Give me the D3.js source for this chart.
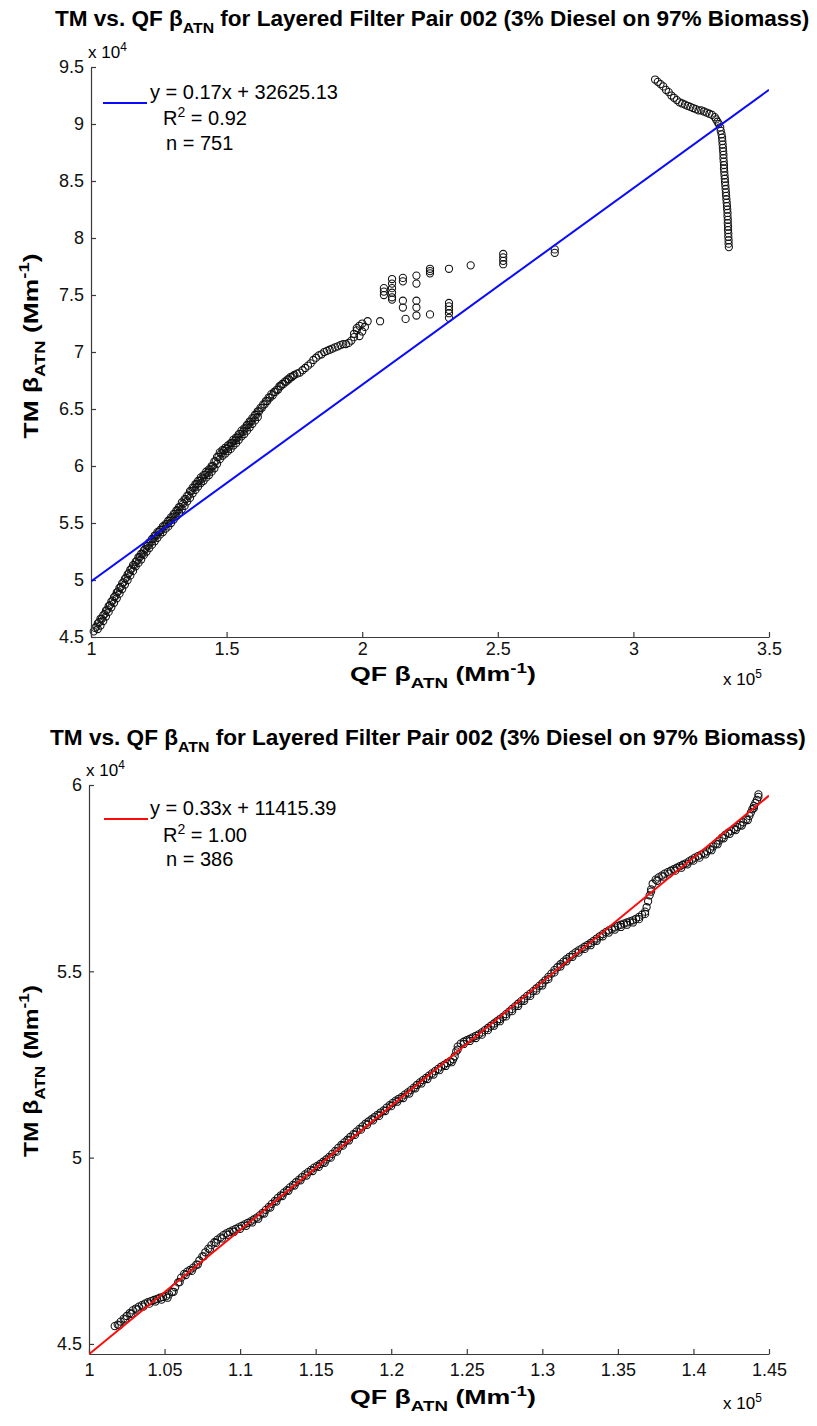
<!DOCTYPE html>
<html>
<head>
<meta charset="utf-8">
<script src="https://cdn.jsdelivr.net/npm/d3@7/dist/d3.min.js"></script>
<style>
  html, body { margin: 0; padding: 0; background: #fff; }
  svg { display: block; }
</style>
</head>
<body>
<script>
// ---------- Data (QF in units of 1e5 Mm^-1, TM in units of 1e4 Mm^-1) ----------

// Pair 002, full record: lower rising branch
const qfTopCurve = [1.01,1.02,1.03,1.04,1.05,1.06,1.07,1.08,1.09,1.10,1.11,1.12,1.13,1.14,1.15,1.16,1.17,1.18,1.19,1.20,
  1.21,1.22,1.23,1.24,1.25,1.26,1.27,1.28,1.29,1.30,1.31,1.32,1.33,1.34,1.35,1.36,1.37,1.38,1.39,1.40,
  1.41,1.42,1.43,1.44,1.45,1.46,1.47,1.48,1.49,1.50,1.51,1.52,1.53,1.54,1.55,1.56,1.57,1.58,1.59,1.60,
  1.61,1.62,1.63,1.64,1.65,1.66,1.67,1.68,1.69,1.70,1.71,1.72,1.73,1.74,1.75,1.76,1.77,1.78,1.79,1.80,
  1.015,1.025,1.035,1.045,1.055,1.065,1.075,1.085,1.095,1.105,1.115,1.125,1.135,1.145,1.155,1.165,1.175,1.185,1.195,1.205,
  1.215,1.225,1.235,1.245,1.255,1.265,1.275,1.285,1.295,1.305,1.315,1.325,1.335,1.345,1.355,1.365,1.375,1.385,1.395,1.405,
  1.415,1.425,1.435,1.445,1.455,1.465,1.475,1.485,1.495,1.505,1.515,1.525,1.535,1.545,1.555,1.565,1.575,1.585,1.595,1.605,
  1.615,1.625,1.635,1.645,1.655,1.665,1.675,1.685,1.695,1.705,1.715,1.725,1.735,1.745,
  1.81,1.82,1.83,1.84,1.85,1.86,1.87,1.88,1.89,1.90,1.91,1.92,1.93,1.94,1.95,1.96,1.97,1.97,1.98,1.98,1.99,1.99,2.00,2.00,2.01,2.02];
const tmTopCurve = [4.55,4.59,4.63,4.66,4.70,4.74,4.78,4.82,4.86,4.90,4.94,4.98,5.02,5.06,5.10,5.13,5.17,5.20,5.23,5.27,
  5.30,5.33,5.36,5.39,5.42,5.44,5.47,5.49,5.52,5.55,5.58,5.61,5.64,5.67,5.71,5.74,5.78,5.81,5.84,5.87,
  5.89,5.92,5.94,5.97,6.00,6.04,6.08,6.11,6.13,6.15,6.17,6.20,6.22,6.25,6.28,6.30,6.33,6.36,6.39,6.42,
  6.45,6.48,6.51,6.54,6.57,6.60,6.62,6.65,6.67,6.70,6.72,6.74,6.76,6.78,6.80,6.81,6.82,6.84,6.86,6.88,
  4.58,4.62,4.66,4.69,4.73,4.77,4.81,4.85,4.89,4.93,4.97,5.01,5.05,5.09,5.13,5.16,5.20,5.23,5.26,5.30,
  5.33,5.36,5.39,5.42,5.44,5.47,5.49,5.52,5.55,5.58,5.61,5.64,5.68,5.71,5.74,5.78,5.81,5.84,5.87,5.90,
  5.92,5.95,5.97,6.00,6.04,6.08,6.12,6.14,6.16,6.18,6.20,6.23,6.25,6.28,6.31,6.33,6.36,6.39,6.42,6.45,
  6.48,6.51,6.54,6.57,6.60,6.63,6.65,6.67,6.70,6.72,6.74,6.76,6.78,6.79,
  6.90,6.93,6.95,6.97,6.98,7.00,7.01,7.02,7.03,7.04,7.05,7.06,7.07,7.07,7.08,7.10,7.13,7.16,7.19,7.21,7.23,7.14,7.25,7.18,7.22,7.27];

// Pair 002, full record: right edge of the lower branch
const qfTopEdge = [1.025,1.035,1.045,1.055,1.065,1.075,1.085,1.095,1.105,1.115,1.125,1.135,1.145,1.155,1.165,1.175,1.185,1.195,1.205,1.215,
  1.225,1.235,1.245,1.255,1.265,1.275,1.285,1.295,1.305,1.315,1.325,1.335,1.345,1.355,1.365,1.375,1.385,1.395,1.405,1.415,
  1.425,1.435,1.445,1.455,1.465,1.475,1.485,1.495,1.505,1.515,1.525,1.535,1.545,1.555,1.565,1.575,1.585,1.595,1.605,1.615];
const tmTopEdge = [4.57,4.60,4.64,4.68,4.72,4.76,4.80,4.84,4.88,4.92,4.96,5.00,5.04,5.08,5.12,5.15,5.18,5.22,5.25,5.28,
  5.31,5.34,5.37,5.40,5.42,5.45,5.47,5.50,5.53,5.56,5.59,5.62,5.65,5.69,5.72,5.76,5.79,5.82,5.85,5.87,
  5.90,5.92,5.95,5.98,6.02,6.06,6.09,6.11,6.13,6.15,6.18,6.20,6.23,6.26,6.28,6.31,6.34,6.37,6.40,6.43];

// Pair 002, full record: scattered middle group
const qfTopCluster = [2.066,2.08,2.08,2.08,2.11,2.11,2.11,2.11,2.11,2.11,2.15,2.15,2.15,2.15,2.16,
  2.20,2.20,2.20,2.20,2.20,2.25,2.25,2.25,2.25,2.32,2.32,2.32,2.32,2.32,2.32,2.40,2.52,2.52,2.52,2.52,2.71,2.71];
const tmTopCluster = [7.27,7.56,7.53,7.50,7.64,7.60,7.56,7.52,7.48,7.46,7.65,7.62,7.45,7.39,7.29,
  7.67,7.60,7.45,7.39,7.32,7.73,7.71,7.69,7.33,7.73,7.43,7.40,7.37,7.34,7.30,7.76,7.86,7.83,7.80,7.77,7.90,7.87];

// Pair 002, full record: upper bending branch
const qfTopBranch = [3.08,3.09,3.10,3.11,3.12,3.13,3.14,3.15,3.16,3.17,3.18,3.19,3.20,3.21,3.22,3.23,3.24,3.25,3.26,3.27,
  3.28,3.29,3.30,3.305,3.31,3.315,3.32,3.322,3.325,3.327,3.328,3.329,3.330,3.331,3.332,3.332,3.333,3.334,3.334,3.335,
  3.336,3.337,3.338,3.339,3.340,3.341,3.342,3.343,3.344,3.345,3.346,3.347,3.347,3.348,3.348,3.349,3.349,3.350,3.350,3.351,3.351,3.352];
const tmTopBranch = [9.39,9.37,9.35,9.33,9.30,9.28,9.25,9.23,9.21,9.19,9.18,9.17,9.16,9.15,9.14,9.13,9.12,9.12,9.11,9.10,
  9.09,9.08,9.06,9.04,9.02,9.00,8.97,8.94,8.91,8.88,8.85,8.82,8.79,8.76,8.73,8.70,8.67,8.64,8.61,8.58,
  8.55,8.52,8.49,8.46,8.43,8.40,8.37,8.34,8.31,8.28,8.25,8.22,8.19,8.16,8.13,8.10,8.07,8.04,8.01,7.98,7.95,7.92];

// Pair 002, trimmed record
const qfBottom = [1.017,1.019,1.021,1.023,1.025,1.027,1.029,1.031,1.033,1.035,1.037,1.039,1.041,1.043,1.045,1.047,1.049,1.051,1.053,1.055,
  1.057,1.059,1.061,1.063,1.065,1.067,1.069,1.071,1.073,1.075,1.077,1.079,1.081,1.083,1.085,1.087,1.089,1.091,1.093,1.095,
  1.097,1.099,1.101,1.103,1.105,1.107,1.109,1.111,1.113,1.115,1.117,1.119,1.121,1.123,1.125,1.127,1.129,1.131,1.133,1.135,
  1.137,1.139,1.141,1.143,1.145,1.147,1.149,1.151,1.153,1.155,1.157,1.159,1.161,1.163,1.165,1.167,1.169,1.171,1.173,1.175,
  1.177,1.179,1.181,1.183,1.185,1.187,1.189,1.191,1.193,1.195,1.197,1.199,1.201,1.203,1.205,1.207,1.209,1.211,1.213,1.215,
  1.217,1.219,1.221,1.223,1.225,1.227,1.229,1.231,1.233,1.235,1.237,1.239,1.241,1.242,1.243,1.244,1.246,1.248,1.250,1.252,
  1.254,1.256,1.258,1.260,1.262,1.264,1.266,1.268,1.270,1.272,1.274,1.276,1.278,1.280,1.282,1.284,1.286,1.288,1.290,1.292,
  1.294,1.296,1.298,1.300,1.302,1.304,1.306,1.308,1.310,1.312,1.314,1.316,1.318,1.320,1.322,1.324,1.326,1.328,1.330,1.332,
  1.334,1.336,1.338,1.340,1.342,1.344,1.346,1.348,1.350,1.352,1.354,1.356,1.358,1.360,1.362,1.364,1.366,1.368,1.369,1.370,
  1.371,1.372,1.373,1.375,1.377,1.379,1.381,1.383,1.385,1.387,1.389,1.391,1.393,1.395,1.397,1.399,1.401,1.403,1.405,1.407,
  1.409,1.411,1.413,1.415,1.417,1.419,1.421,1.423,1.425,1.427,1.429,1.431,1.433,1.435,1.437,1.438,1.439,1.440,1.441,1.442,1.443,1.443];
const tmBottom = [4.548,4.552,4.560,4.568,4.575,4.583,4.590,4.595,4.600,4.604,4.608,4.612,4.615,4.618,4.621,4.624,4.626,4.628,4.633,4.640,
  4.652,4.665,4.678,4.688,4.694,4.699,4.705,4.713,4.724,4.735,4.746,4.756,4.765,4.773,4.780,4.786,4.792,4.797,4.801,4.805,
  4.809,4.813,4.817,4.821,4.825,4.829,4.834,4.839,4.845,4.852,4.860,4.868,4.876,4.884,4.892,4.899,4.906,4.913,4.920,4.927,
  4.934,4.941,4.948,4.955,4.961,4.967,4.973,4.978,4.983,4.989,4.995,5.002,5.010,5.018,5.026,5.034,5.041,5.048,5.056,5.063,
  5.070,5.077,5.084,5.091,5.097,5.103,5.109,5.115,5.121,5.127,5.134,5.141,5.147,5.153,5.158,5.163,5.169,5.175,5.181,5.188,
  5.195,5.202,5.208,5.214,5.220,5.226,5.232,5.238,5.244,5.249,5.254,5.259,5.264,5.272,5.285,5.298,5.306,5.311,5.315,5.319,
  5.323,5.327,5.331,5.336,5.342,5.348,5.354,5.360,5.366,5.372,5.378,5.385,5.392,5.399,5.406,5.413,5.420,5.427,5.434,5.440,
  5.447,5.454,5.461,5.468,5.476,5.485,5.494,5.503,5.511,5.519,5.526,5.533,5.539,5.545,5.551,5.556,5.561,5.566,5.571,5.576,
  5.582,5.588,5.594,5.600,5.605,5.610,5.614,5.618,5.622,5.625,5.628,5.631,5.634,5.637,5.641,5.646,5.652,5.660,5.672,5.688,
  5.704,5.720,5.735,5.746,5.752,5.757,5.762,5.766,5.770,5.774,5.778,5.782,5.786,5.790,5.795,5.800,5.805,5.809,5.813,5.817,
  5.822,5.828,5.835,5.843,5.851,5.859,5.866,5.872,5.877,5.882,5.887,5.893,5.900,5.908,5.917,5.926,5.935,5.944,5.952,5.960,5.968,5.975];

// Pair 002, trimmed record: lower edge of the band
const qfBottomEdge = [1.020,1.024,1.028,1.032,1.036,1.040,1.044,1.048,1.052,1.056,1.060,1.064,1.068,1.072,1.076,1.080,1.084,1.088,1.092,1.096,
  1.100,1.104,1.108,1.112,1.116,1.120,1.124,1.128,1.132,1.136,1.140,1.144,1.148,1.152,1.156,1.160,1.164,1.168,1.172,1.176,
  1.180,1.184,1.188,1.192,1.196,1.200,1.204,1.208,1.212,1.216,1.220,1.224,1.228,1.232,1.236,1.240,1.244,1.248,1.252,1.256,
  1.260,1.264,1.268,1.272,1.276,1.280,1.284,1.288,1.292,1.296,1.300,1.304,1.308,1.312,1.316,1.320,1.324,1.328,1.332,1.336,
  1.340,1.344,1.348,1.352,1.356,1.360,1.364,1.368,1.372,1.376,1.380,1.384,1.388,1.392,1.396,1.400,1.404,1.408,1.412,1.416,
  1.420,1.424,1.428,1.432,1.436,1.440];
const tmBottomEdge = [4.550,4.566,4.581,4.592,4.600,4.608,4.614,4.619,4.624,4.640,4.666,4.685,4.696,4.713,4.735,4.754,4.771,4.783,4.793,4.801,
  4.809,4.817,4.826,4.836,4.850,4.866,4.882,4.897,4.911,4.925,4.939,4.952,4.964,4.975,4.986,5.000,5.016,5.032,5.046,5.061,
  5.075,5.088,5.100,5.112,5.125,5.138,5.150,5.160,5.172,5.186,5.199,5.211,5.223,5.235,5.246,5.256,5.290,5.305,5.313,5.321,
  5.330,5.342,5.354,5.366,5.379,5.393,5.407,5.421,5.434,5.448,5.462,5.479,5.497,5.513,5.527,5.539,5.550,5.560,5.570,5.582,
  5.594,5.604,5.612,5.619,5.625,5.631,5.640,5.654,5.714,5.743,5.754,5.762,5.770,5.778,5.787,5.797,5.805,5.814,5.825,5.841,
  5.857,5.869,5.879,5.891,5.906,5.938];

// Linear fits (TM = slope * QF + intercept, in Mm^-1)
const fitTop = { slope: 0.1725, intercept: 32625.13, r2: 0.92, n: 751 };
const fitBottom = { slope: 0.3331, intercept: 11415.39, r2: 1.00, n: 386 };

// Tick values (axis units) and their labels
const xTicksTop = [1, 1.5, 2, 2.5, 3, 3.5];
const xTickLabelsTop = ["1", "1.5", "2", "2.5", "3", "3.5"];
const yTicksTop = [4.5, 5, 5.5, 6, 6.5, 7, 7.5, 8, 8.5, 9, 9.5];
const yTickLabelsTop = ["4.5", "5", "5.5", "6", "6.5", "7", "7.5", "8", "8.5", "9", "9.5"];
const xTicksBottom = [1, 1.05, 1.1, 1.15, 1.2, 1.25, 1.3, 1.35, 1.4, 1.45];
const xTickLabelsBottom = ["1", "1.05", "1.1", "1.15", "1.2", "1.25", "1.3", "1.35", "1.4", "1.45"];
const yTicksBottom = [4.5, 5, 5.5, 6];
const yTickLabelsBottom = ["4.5", "5", "5.5", "6"];

const titleText = ["TM vs. QF β", "ATN", " for Layered Filter Pair 002 (3% Diesel on 97% Biomass)"];

// ---------- Drawing ----------
const XMUL = 1e5, YMUL = 1e4;
const FONT = "'Liberation Sans', Arial, Helvetica, sans-serif";
const AXIS_COLOR = "#3a3a3a";

const svg = d3.select("body").append("svg")
  .attr("width", 817).attr("height", 1426)
  .attr("viewBox", "0 0 817 1426");

// text made of plain / subscript / superscript runs
function richText(parent, runs, size, weight, supShift) {
  const t = parent.append("text")
    .attr("font-family", FONT).attr("font-size", size)
    .attr("font-weight", weight).attr("fill", "#000");
  let shift = 0;
  runs.forEach(r => {
    const target = r.sub ? size * 0.32 : r.sup ? -size * (supShift || 0.42) : 0;
    t.append("tspan")
      .attr("dy", target - shift)
      .attr("font-size", (r.sub || r.sup) ? size * 0.7 : size)
      .text(r.t);
    shift = target;
  });
  return t;
}

// squeeze or stretch a label along its reading direction to a given length
function fitLength(g, text, len) {
  const bb = text.node().getBBox();
  const s = len / bb.width;
  g.attr("transform", (g.attr("transform") || "") + ` scale(${s},1)`);
}

function horizontalLabel(runs, size, weight, x0, baseline, width, supShift) {
  const outer = svg.append("g").attr("transform", `translate(${x0},${baseline})`);
  const inner = outer.append("g");
  const t = richText(inner, runs, size, weight, supShift);
  if (width) fitLength(inner, t, width);
  return t;
}

function verticalLabel(runs, size, weight, cx, cy, len) {
  const outer = svg.append("g").attr("transform", `translate(${cx},${cy}) rotate(-90)`);
  const inner = outer.append("g");
  const t = richText(inner, runs, size, weight).attr("text-anchor", "middle");
  if (len) fitLength(inner, t, len);
  return t;
}

function drawPanel(p) {
  const x = d3.scaleLinear().domain(p.xDomain).range(p.xRange);
  const y = d3.scaleLinear().domain(p.yDomain).range(p.yRange);
  const g = svg.append("g");

  const clipId = "clip-" + p.id;
  g.append("clipPath").attr("id", clipId).append("rect")
    .attr("x", p.xRange[0]).attr("y", p.yRange[1])
    .attr("width", p.xRange[1] - p.xRange[0])
    .attr("height", p.yRange[0] - p.yRange[1]);

  // scatter markers (open circles)
  const pts = g.append("g");
  p.series.forEach(s => {
    pts.selectAll(null)
      .data(d3.zip(s.qf, s.tm))
      .join("circle")
      .attr("cx", d => x(d[0] * XMUL))
      .attr("cy", d => y(d[1] * YMUL))
      .attr("r", 3.6)
      .attr("fill", "none")
      .attr("stroke", "#111")
      .attr("stroke-width", 1.05);
  });

  // axes: inward ticks, no box
  const xAxis = d3.axisBottom(x)
    .tickValues(p.xTicks.map(v => v * XMUL))
    .tickFormat((d, i) => p.xTickLabels[i])
    .tickSizeInner(-5).tickSizeOuter(0).tickPadding(p.xTickPad);
  const yAxis = d3.axisLeft(y)
    .tickValues(p.yTicks.map(v => v * YMUL))
    .tickFormat((d, i) => p.yTickLabels[i])
    .tickSizeInner(-5).tickSizeOuter(0).tickPadding(7);

  [g.append("g").attr("transform", `translate(0,${p.yRange[0]})`).call(xAxis),
   g.append("g").attr("transform", `translate(${p.xRange[0]},0)`).call(yAxis)]
    .forEach(a => {
      a.select(".domain").attr("stroke", AXIS_COLOR).attr("stroke-width", 1.2);
      a.selectAll(".tick line").attr("stroke", AXIS_COLOR).attr("stroke-width", 1.2);
      a.selectAll(".tick text").attr("font-family", FONT).attr("font-size", 18).attr("fill", "#111");
    });

  // fitted line
  const fx0 = p.xDomain[0], fx1 = p.xDomain[1];
  g.append("line")
    .attr("clip-path", `url(#${clipId})`)
    .attr("x1", x(fx0)).attr("y1", y(p.fit.slope * fx0 + p.fit.intercept))
    .attr("x2", x(fx1)).attr("y2", y(p.fit.slope * fx1 + p.fit.intercept))
    .attr("stroke", p.lineColor).attr("stroke-width", 2);

  // legend
  const L = p.legend;
  g.append("line")
    .attr("x1", L.x0).attr("x2", L.x1).attr("y1", L.lineY).attr("y2", L.lineY)
    .attr("stroke", p.lineColor).attr("stroke-width", 2);
  const fmt = d3.format(".2f");
  horizontalLabel([{ t: `y = ${fmt(p.fit.slope)}x + ${fmt(p.fit.intercept)}` }], 20, "normal", L.textX, L.row1);
  horizontalLabel([{ t: "R" }, { t: "2", sup: true }, { t: ` = ${fmt(p.fit.r2)}` }], 20, "normal", L.textX + 13, L.row2);
  horizontalLabel([{ t: `n = ${p.fit.n}` }], 20, "normal", L.textX + 16, L.row3);

  // exponent notes
  horizontalLabel([{ t: "x 10" }, { t: "4", sup: true }], 17, "normal", p.xRange[0] - 3, p.yRange[1] - 9);
  horizontalLabel([{ t: "x 10" }, { t: "5", sup: true }], 17, "normal", p.xRange[1] - 46, p.expXBaseline);

  // title and axis labels
  horizontalLabel([{ t: titleText[0] }, { t: titleText[1], sub: true }, { t: titleText[2] }],
    22, "bold", p.title.x, p.title.baseline, p.title.width);
  horizontalLabel([{ t: "QF β" }, { t: "ATN", sub: true }, { t: " (Mm" }, { t: "-1", sup: true }, { t: ")" }],
    21, "bold", p.xLabel.x, p.xLabel.baseline, p.xLabel.width, 0.36);
  verticalLabel([{ t: "TM β" }, { t: "ATN", sub: true }, { t: " (Mm" }, { t: "-1", sup: true }, { t: ")" }],
    21, "bold", p.yLabel.cx, p.yLabel.cy, p.yLabel.len);
}

drawPanel({
  id: "top",
  xDomain: [1 * XMUL, 3.5 * XMUL], xRange: [91, 769],
  yDomain: [4.5 * YMUL, 9.5 * YMUL], yRange: [637, 67],
  xTicks: xTicksTop, xTickLabels: xTickLabelsTop, xTickPad: 5,
  yTicks: yTicksTop, yTickLabels: yTickLabelsTop,
  series: [
    { qf: qfTopCurve, tm: tmTopCurve },
    { qf: qfTopEdge, tm: tmTopEdge },
    { qf: qfTopCluster, tm: tmTopCluster },
    { qf: qfTopBranch, tm: tmTopBranch }
  ],
  fit: fitTop, lineColor: "#0a0aff",
  legend: { x0: 103, x1: 147, lineY: 103, textX: 150, row1: 99, row2: 125, row3: 150 },
  expXBaseline: 685,
  title: { x: 55, baseline: 26, width: 755 },
  xLabel: { x: 350, baseline: 681, width: 186 },
  yLabel: { cx: 38, cy: 346, len: 185 }
});

drawPanel({
  id: "bottom",
  xDomain: [1 * XMUL, 1.45 * XMUL], xRange: [89, 769],
  yDomain: [44730, 6 * YMUL], yRange: [1354, 785],
  xTicks: xTicksBottom, xTickLabels: xTickLabelsBottom, xTickPad: 9,
  yTicks: yTicksBottom, yTickLabels: yTickLabelsBottom,
  series: [{ qf: qfBottom, tm: tmBottom }, { qf: qfBottomEdge, tm: tmBottomEdge }],
  fit: fitBottom, lineColor: "#ff0a0a",
  legend: { x0: 104, x1: 148, lineY: 819, textX: 150, row1: 815, row2: 842, row3: 866 },
  expXBaseline: 1409,
  title: { x: 50, baseline: 745, width: 756 },
  xLabel: { x: 350, baseline: 1404, width: 186 },
  yLabel: { cx: 38, cy: 1071, len: 172 }
});
</script>
</body>
</html>
